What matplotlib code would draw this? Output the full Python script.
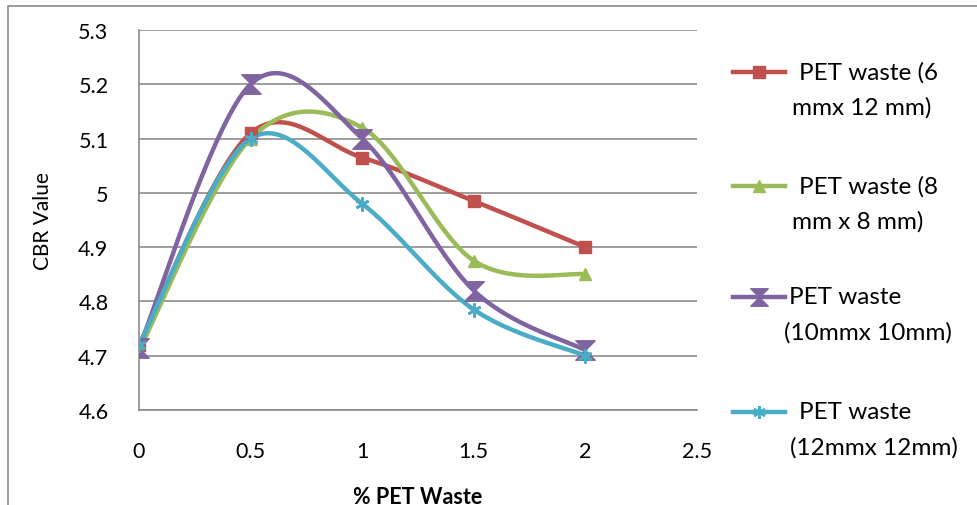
import numpy as np
import matplotlib.pyplot as plt
from matplotlib.path import Path
from matplotlib.lines import Line2D
from matplotlib.patches import Rectangle

plt.rcParams['font.family'] = ['Lato', 'DejaVu Sans']

# data
pet_pct = [0, 0.5, 1, 1.5, 2]
cbr_6x12 = [4.72, 5.11, 5.065, 4.985, 4.90]
cbr_8x8 = [4.71, 5.10, 5.12, 4.875, 4.85]
cbr_10x10 = [4.715, 5.20, 5.10, 4.82, 4.71]
cbr_12x12 = [4.72, 5.10, 4.98, 4.785, 4.70]
labels = [["PET waste (6", "mmx 12 mm)"], ["PET waste (8", "mm x 8 mm)"],
          ["PET waste", "(10mmx 10mm)"], ["PET waste", "(12mmx 12mm)"]]
x_ticks = [0, 0.5, 1, 1.5, 2, 2.5]
y_ticks = [4.6, 4.7, 4.8, 4.9, 5.0, 5.1, 5.2, 5.3]
y_ticklabels = ["4.6", "4.7", "4.8", "4.9", "5", "5.1", "5.2", "5.3"]

colors = ["#C0504D", "#9BBB59", "#8064A2", "#4BACC6"]
hourglass = Path([(-1, 1), (1, 1), (-1, -1), (1, -1), (-1, 1)],
                 [Path.MOVETO, Path.LINETO, Path.LINETO, Path.LINETO, Path.CLOSEPOLY])
markers = ["s", "^", hourglass, (6, 2, 0)]
msizes = [9, 9, 14, 10]


def smooth(xs, ys, n=40):
    # excel style smoothing (catmull-rom bezier)
    p = np.column_stack([xs, ys]).astype(float)
    p = np.vstack([p[0], p, p[-1]])
    out = []
    t = np.linspace(0, 1, n)[:, None]
    for i in range(1, len(p) - 2):
        p0, p1, p2, p3 = p[i - 1], p[i], p[i + 1], p[i + 2]
        c1 = p1 + (p2 - p0) / 6
        c2 = p2 - (p3 - p1) / 6
        seg = ((1 - t) ** 3) * p1 + 3 * ((1 - t) ** 2) * t * c1 + 3 * (1 - t) * t ** 2 * c2 + t ** 3 * p2
        out.append(seg)
    out = np.vstack(out)
    return out[:, 0], out[:, 1]


fig = plt.figure(figsize=(9.78, 5.06), dpi=100)
fig.patches.append(Rectangle((8 / 978, -0.1), 1.2, 1 - 7 / 506 + 0.1, transform=fig.transFigure,
                             fill=False, edgecolor="#8c8c8c", lw=1.2))
ax = fig.add_axes([139 / 978, 1 - 411 / 506, (697 - 139) / 978, (411 - 31) / 506])

series = [cbr_6x12, cbr_8x8, cbr_10x10, cbr_12x12]
for ys, c, m, ms in zip(series, colors, markers, msizes):
    sx, sy = smooth(pet_pct, ys)
    ax.plot(sx, sy, color=c, lw=3.2, solid_capstyle="round", zorder=3)
    if m == (6, 2, 0):
        ax.plot(pet_pct, ys, ls="none", marker=m, ms=ms, mec=c, mew=2, zorder=4)
    else:
        ax.plot(pet_pct, ys, ls="none", marker=m, ms=ms, color=c, mec=c, zorder=4)

ax.set_xlim(0, 2.5)
ax.set_ylim(4.6, 5.3)
ax.set_xticks(x_ticks)
ax.set_xticklabels([f"{v:g}" for v in x_ticks])
ax.set_yticks(y_ticks)
ax.set_yticklabels(y_ticklabels)
ax.yaxis.grid(True, color="#8c8c8c", lw=1.2)
ax.set_axisbelow(True)
for s in ["top", "right"]:
    ax.spines[s].set_visible(False)
for s in ["left", "bottom"]:
    ax.spines[s].set_color("#8c8c8c")
    ax.spines[s].set_linewidth(1.2)
ax.tick_params(length=0, labelsize=15.5)
ax.tick_params(axis="x", pad=22)
ax.tick_params(axis="y", pad=22)
ax.set_ylabel("CBR Value", fontsize=15, labelpad=18)
ax.set_xlabel("% PET Waste", fontsize=15.5, fontweight="bold", labelpad=18)

# legend, laid out by hand like the excel one
leg_y = [73, 187, 298, 413]
line_x = [(799, 792), (799, 792), (789, 784), (799, 790)]
for lab, c, m, ms, yy, lx in zip(labels, colors, markers, msizes, leg_y, line_x):
    fy = 1 - yy / 506
    fig.add_artist(Line2D([733 / 978, 785 / 978], [fy, fy], color=c, lw=3.2, transform=fig.transFigure))
    if m == (6, 2, 0):
        fig.add_artist(Line2D([759 / 978], [fy], ls="none", marker=m, ms=ms * 0.9, mec=c, mew=2,
                              transform=fig.transFigure))
    else:
        fig.add_artist(Line2D([759 / 978], [fy], ls="none", marker=m, ms=ms * 0.9, color=c,
                              transform=fig.transFigure))
    for k, txt in enumerate(lab):
        fig.text(lx[k] / 978, 1 - (yy + 35 * k) / 506, txt, ha="left", va="center",
                 fontsize=17.5, transform=fig.transFigure)

fig.savefig("out.png", dpi=100)
